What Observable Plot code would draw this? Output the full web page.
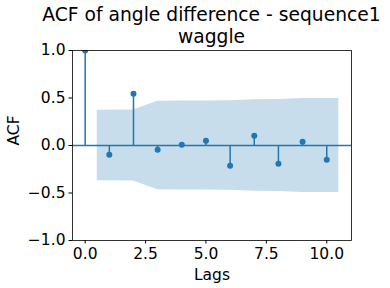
<!DOCTYPE html>
<html>
<head>
<meta charset="utf-8">
<script src="https://cdn.jsdelivr.net/npm/d3@7"></script>
<script src="https://cdn.jsdelivr.net/npm/@observablehq/plot@0.6"></script>
<style>
  html, body { margin: 0; padding: 0; background: #fff; }
  #wrap { position: relative; width: 390px; height: 288px; font-family: "DejaVu Sans", sans-serif; }
  #title { position: absolute; left: 72px; width: 279px; top: 4px; text-align: center; font-size: 18.7px; line-height: 22px; color: #000; white-space: nowrap; }
  #title div { display: flex; justify-content: center; }
  #chart { position: absolute; left: 0; top: 0; }
  #chart svg text { font-family: "DejaVu Sans", sans-serif !important; font-size: 15.5px !important; font-variant: normal !important; fill: #000; }
  #chart svg text.lab { font-size: 15.5px !important; }
</style>
</head>
<body>
<div id="wrap">
  <div id="chart"></div>
  <div id="title"><div>ACF of angle difference - sequence1</div><div>waggle</div></div>
</div>
<script>
const lags = [0, 1, 2, 3, 4, 5, 6, 7, 8, 9, 10];
const acf = [1.0, -0.098, 0.544, -0.046, 0.007, 0.049, -0.214, 0.102, -0.193, 0.039, -0.151];
const bandX = [0.5, 2, 3, 4, 5, 6, 7, 8, 9, 10.5];
const bandHalf = [0.372, 0.374, 0.467, 0.468, 0.468, 0.470, 0.481, 0.484, 0.494, 0.496];
const xTicks = [0, 2.5, 5, 7.5, 10];
const yTicks = [-1, -0.5, 0, 0.5, 1];
const xLabel = "Lags";
const yLabel = "ACF";

const points = lags.map((l, i) => ({lag: l, acf: acf[i]}));
const band = bandX.map((x, i) => ({x, lo: -bandHalf[i], hi: bandHalf[i]}));
const blue = "#1f77b4";
const fmt = d3.format(".1f");

const chart = Plot.plot({
  width: 390,
  height: 288,
  marginLeft: 72,
  marginRight: 39,
  marginTop: 50,
  marginBottom: 48,
  style: {fontFamily: "DejaVu Sans, sans-serif", fontSize: "15.5px", color: "#000", background: "#fff"},
  x: {domain: [-0.525, 11.025], label: null},
  y: {domain: [-1, 1], label: null},
  marks: [
    Plot.areaY(band, {x: "x", y1: "lo", y2: "hi", fill: blue, fillOpacity: 0.25}),
    Plot.ruleY([0], {stroke: blue, strokeWidth: 1.5}),
    Plot.ruleX(points, {x: "lag", y1: 0, y2: "acf", stroke: blue, strokeWidth: 1.5}),
    Plot.dot(points, {x: "lag", y: "acf", r: 3, fill: blue, stroke: "none", clip: "frame"}),
    Plot.frame({stroke: "#000", strokeWidth: 0.8}),
    Plot.axisX({ticks: xTicks, tickFormat: fmt, tickSize: 3.5, tickPadding: 3.5, label: null}),
    Plot.axisY({ticks: yTicks, tickFormat: fmt, tickSize: 3.5, tickPadding: 3.5, label: null}),
    Plot.text([xLabel], {frameAnchor: "bottom", dy: 39, fill: "#000"}),
    Plot.text([yLabel], {frameAnchor: "left", dx: -58, rotate: -90, fill: "#000"})
  ]
});
chart.querySelectorAll("text").forEach(t => {
  if (t.textContent === xLabel || t.textContent === yLabel) t.classList.add("lab");
});
document.getElementById("chart").appendChild(chart);
</script>
</body>
</html>
